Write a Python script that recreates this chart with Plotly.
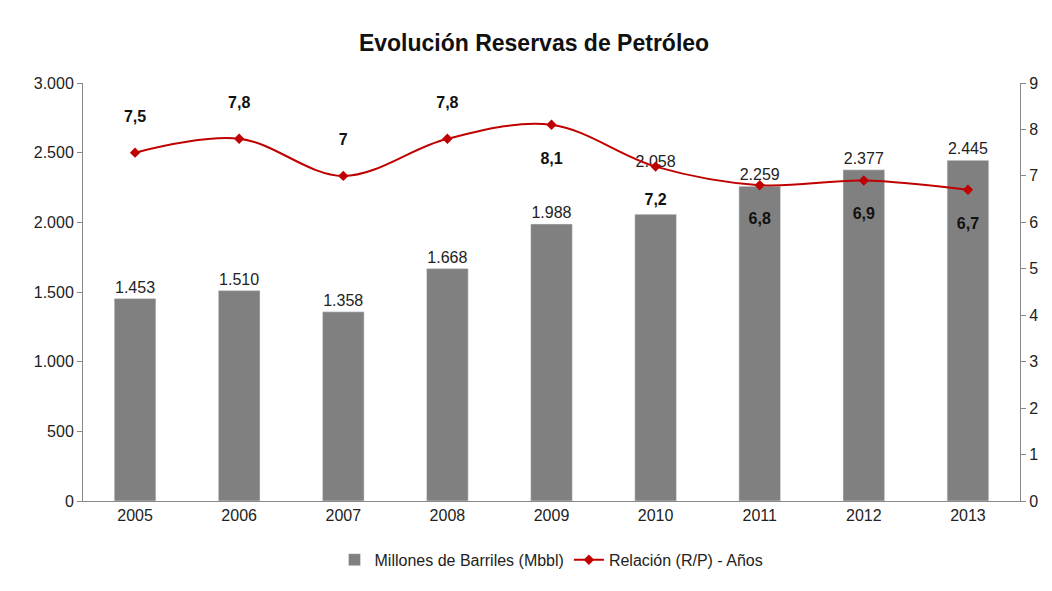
import plotly.graph_objects as go

years = ["2005","2006","2007","2008","2009","2010","2011","2012","2013"]
reservas = [1453,1510,1358,1668,1988,2058,2259,2377,2445]
rp = [7.5,7.8,7.0,7.8,8.1,7.2,6.8,6.9,6.7]
bar_labels = ["1.453","1.510","1.358","1.668","1.988","2.058","2.259","2.377","2.445"]
rp_labels = ["7,5","7,8","7","7,8","8,1","7,2","6,8","6,9","6,7"]
rp_pos = ["top center"]*4 + ["bottom center"]*5

F = "Liberation Sans Narrow, Arial Narrow, Liberation Sans, sans-serif"
fig = go.Figure()
fig.add_trace(go.Bar(x=years, y=reservas, name="Millones de Barriles (Mbbl)",
    marker_color="#808080", width=0.4, text=bar_labels, textposition="outside",
    texttemplate=[("%{text}<br> <br> " if y == "2010" else "%{text}") for y in years],
    textfont=dict(size=16, color="#222"), cliponaxis=False))
fig.add_trace(go.Scatter(x=years, y=rp, yaxis="y2", name="Relación (R/P) - Años",
    mode="lines+markers+text", line=dict(color="#C00000", width=2, shape="spline"),
    marker=dict(symbol="diamond", size=8, color="#C00000"),
    text=rp_labels, textposition=rp_pos,
    texttemplate=[("%{text}<br> " if p.startswith("top") else " <br>%{text}") for p in rp_pos],
    textfont=dict(size=16, color="#111", family=F, weight="bold"), cliponaxis=False))
fig.update_layout(
    width=1052, height=591, plot_bgcolor="white", paper_bgcolor="white",
    font=dict(family=F, size=16, color="#222"),
    title=dict(text="<b>Evolución Reservas de Petróleo</b>", x=0.5, y=0.955, xanchor="center",
               font=dict(size=23, color="#111")),
    margin=dict(l=75, r=40, t=75, b=98),
    bargap=0.6, showlegend=True,
    legend=dict(orientation="h", x=0.5, xanchor="center", y=-0.1, yanchor="top",
                font=dict(size=16)),
    xaxis=dict(showline=True, linecolor="#888", ticks="", showgrid=False),
    yaxis=dict(range=[0,3000], dtick=500, tickformat=",d", showline=True, linecolor="#888",
               ticks="outside", tickcolor="#888", showgrid=False),
    yaxis2=dict(range=[0,9], dtick=1, overlaying="y", side="right", showline=True,
                linecolor="#888", ticks="outside", tickcolor="#888", showgrid=False),
    separators=",.",
)
fig.write_html("out.html")
